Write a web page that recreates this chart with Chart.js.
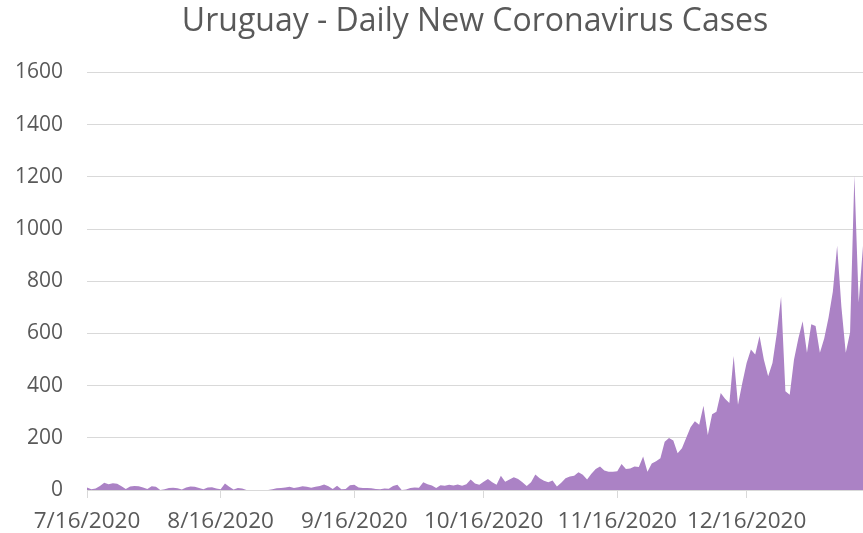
<!DOCTYPE html>
<html>
<head>
<meta charset="utf-8">
<script src="https://cdn.jsdelivr.net/npm/chart.js@4/dist/chart.umd.min.js"></script>
<style>
    html, body { margin: 0; padding: 0; background: #ffffff; }
    #holder { width: 863px; height: 533px; position: relative; }
</style>
</head>
<body>
<div id="holder"><canvas id="graph"></canvas></div>
<script>
var chart_title = 'Uruguay - Daily New Coronavirus Cases';

/*first day of the series and number of days shown*/
var start_day = [2020, 7, 16];
var day_count = 181;

/*daily new cases, 7/16/2020 onwards*/
var new_cases = [
    10, 3, 6, 15, 28, 22, 26, 24, 14, 4,
    13, 15, 14, 10, 4, 14, 12, 0, 3, 8,
    9, 7, 2, 10, 13, 12, 8, 3, 10, 11,
    6, 3, 25, 12, 2, 8, 6, 0, 0, 0,
    0, 0, 0, 3, 7, 8, 10, 12, 8, 11,
    14, 12, 9, 12, 15, 21, 14, 4, 16, 3,
    4, 18, 20, 10, 8, 8, 7, 4, 3, 6,
    5, 15, 20, 0, 2, 8, 10, 9, 30, 22,
    17, 8, 18, 16, 20, 17, 21, 16, 22, 40,
    25, 20, 32, 42, 30, 20, 55, 32, 40, 49,
    42, 30, 15, 30, 59, 45, 35, 30, 36, 13,
    28, 45, 52, 55, 68, 58, 40, 62, 80, 90,
    75, 70, 70, 72, 100, 80, 82, 90, 88, 128,
    70, 102, 110, 122, 185, 199, 190, 141, 160, 200,
    240, 263, 250, 323, 211, 290, 300, 372, 350, 333,
    513, 327, 410, 487, 538, 519, 590, 500, 436, 487,
    600, 740, 378, 365, 500, 580, 647, 526, 635, 628,
    526, 580, 660, 760, 936, 700, 526, 603, 1205, 718,
    936
];

/*labels that are shown under the axis*/
var tick_labels = ['7/16/2020', '8/16/2020', '9/16/2020', '10/16/2020', '11/16/2020', '12/16/2020'];
var y_ticks = [0, 200, 400, 600, 800, 1000, 1200, 1400, 1600];

var text_grey = '#595959';
var grid_grey = '#d9d9d9';
var area_purple = '#ab82c5';

function make_labels()
{
    var out = [];
    for (var i = 0; i < day_count; i++) {
        var d = new Date(Date.UTC(start_day[0], start_day[1] - 1, start_day[2] + i));
        out.push((d.getUTCMonth() + 1) + '/' + d.getUTCDate() + '/' + d.getUTCFullYear());
    }
    return out;
}

var labels = make_labels();

function draw_graph()
{
    var context = document.getElementById('graph');

    new Chart(context, {
        type: 'line',
        data: {
            labels: labels,
            datasets: [{
                data: new_cases,
                fill: 'origin',
                backgroundColor: area_purple,
                borderColor: area_purple,
                borderWidth: 0,
                pointRadius: 0,
                tension: 0
            }]
        },
        options: {
            responsive: true,
            maintainAspectRatio: false,
            animation: false,
            layout: { padding: 0 },
            plugins: {
                legend: { display: false },
                tooltip: { enabled: false },
                title: {
                    display: true,
                    fullSize: false,
                    text: chart_title,
                    color: text_grey,
                    font: { family: 'Open Sans', size: 32, weight: 'normal' },
                    padding: { top: 3, bottom: 31 }
                }
            },
            scales: {
                x: {
                    offset: false,
                    grid: {
                        drawOnChartArea: false,
                        drawTicks: true,
                        tickLength: 8,
                        color: function (ctx) {
                            return tick_labels.indexOf(labels[ctx.index]) >= 0 ? grid_grey : 'rgba(0,0,0,0)';
                        }
                    },
                    border: { display: true, color: grid_grey },
                    ticks: {
                        autoSkip: false,
                        maxRotation: 0,
                        minRotation: 0,
                        padding: 10,
                        color: text_grey,
                        font: { family: 'Open Sans', size: 22.5 },
                        callback: function (value, index) {
                            return tick_labels.indexOf(labels[index]) >= 0 ? labels[index] : '';
                        }
                    },
                    afterFit: function (scale) {
                        scale.height = 43;
                        /*let the plot run to the right edge*/
                        scale.paddingRight = 0;
                    }
                },
                y: {
                    min: y_ticks[0],
                    max: y_ticks[y_ticks.length - 1],
                    grid: { color: grid_grey, drawTicks: false },
                    border: { display: false },
                    ticks: {
                        stepSize: 200,
                        padding: 24,
                        color: text_grey,
                        font: { family: 'Open Sans', size: 21 },
                        callback: function (value) { return String(value); }
                    },
                    afterFit: function (scale) { scale.width = 87; }
                }
            }
        }
    });
}

draw_graph();
</script>
</body>
</html>
